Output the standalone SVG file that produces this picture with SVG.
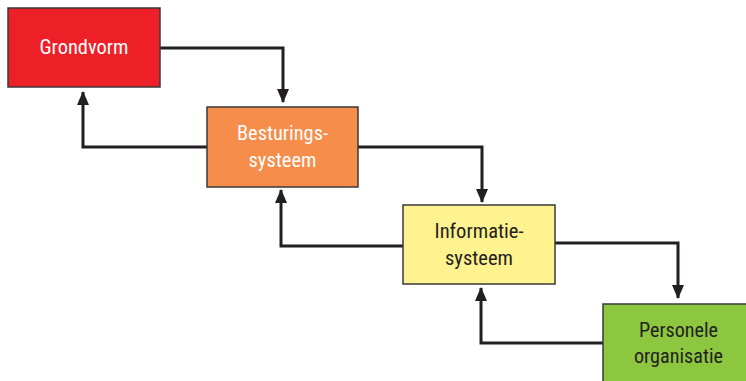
<svg xmlns="http://www.w3.org/2000/svg" width="746" height="381" viewBox="0 0 746 381">
<style>
.box{stroke:#3a3a3a;stroke-width:1.5}
.lbl{font-family:"Liberation Sans Narrow","Roboto Condensed","Liberation Sans",sans-serif;font-size:21px;text-anchor:middle}
.w{fill:#ffffff}
.d{fill:#231f20}
.c{fill:none;stroke:#231f20;stroke-width:3}
</style>
<defs>
<marker id="ah" markerUnits="userSpaceOnUse" markerWidth="14" markerHeight="16" viewBox="0 0 14 16" refX="13" refY="7" orient="auto">
<path d="M0,1 L14,7 L0,13 Z" fill="#231f20"/>
</marker>
</defs>
<g id="connectors">
<path class="c" d="M160,48 H283 V102" marker-end="url(#ah)"/>
<path class="c" d="M207,147 H83 V92" marker-end="url(#ah)"/>
<path class="c" d="M358,147 H482 V202" marker-end="url(#ah)"/>
<path class="c" d="M403,246 H281 V190" marker-end="url(#ah)"/>
<path class="c" d="M555,243 H678 V298" marker-end="url(#ah)"/>
<path class="c" d="M603,343 H481 V288" marker-end="url(#ah)"/>
</g>
<g id="grondvorm">
<rect class="box" x="8" y="8" width="152" height="79" fill="#ed2028"/>
<text class="lbl w" x="84" y="54" textLength="89" lengthAdjust="spacingAndGlyphs">Grondvorm</text>
</g>
<g id="besturingssysteem">
<rect class="box" x="207" y="107" width="151" height="80" fill="#f68d4b"/>
<text class="lbl w" x="282.5" y="140" textLength="91" lengthAdjust="spacingAndGlyphs">Besturings-</text>
<text class="lbl w" x="282.5" y="167" textLength="68" lengthAdjust="spacingAndGlyphs">systeem</text>
</g>
<g id="informatiesysteem">
<rect class="box" x="403" y="205" width="152" height="79" fill="#fff28f"/>
<text class="lbl d" x="479" y="238" textLength="89" lengthAdjust="spacingAndGlyphs">Informatie-</text>
<text class="lbl d" x="479" y="265" textLength="68" lengthAdjust="spacingAndGlyphs">systeem</text>
</g>
<g id="personele-organisatie">
<rect class="box" x="603" y="304" width="152" height="82" fill="#8dc63f"/>
<text class="lbl d" x="678.5" y="337" textLength="79" lengthAdjust="spacingAndGlyphs">Personele</text>
<text class="lbl d" x="678.5" y="363" textLength="89" lengthAdjust="spacingAndGlyphs">organisatie</text>
</g>
</svg>
